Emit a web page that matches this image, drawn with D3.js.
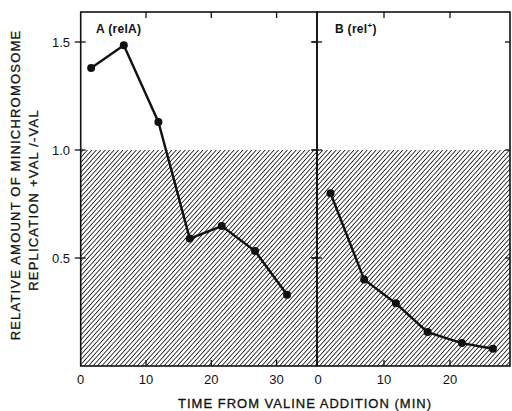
<!DOCTYPE html>
<html>
<head>
<meta charset="utf-8">
<script src="https://cdn.jsdelivr.net/npm/d3@7"></script>
<style>
  body { margin: 0; background: #fff; }
  svg text { font-family: "Liberation Sans", Arial, sans-serif; fill: #111; }
</style>
</head>
<body>
<div class="chart"></div>
<script>
// panel A (relA)
const timeA = [1.6, 6.6, 11.9, 16.7, 21.6, 26.7, 31.6]
const valueA = [1.38, 1.485, 1.13, 0.59, 0.648, 0.532, 0.33]
// panel B (rel+)
const timeB = [1.9, 7.0, 11.8, 16.6, 21.8, 26.5]
const valueB = [0.80, 0.40, 0.29, 0.157, 0.106, 0.08]

const yTicks = [0.5, 1.0, 1.5]
const xTicksA = [0, 10, 20, 30]
const xTicksB = [0, 10, 20]
const shadeBelow = 1.0

const width = 512, height = 411
const plotTop = 12, plotBottom = 366

let svg = d3.select(".chart")
  .append("svg")
  .attr("width", width)
  .attr("height", height)

// hatch pattern
svg.append("defs")
  .append("pattern")
  .attr("id", "hatch")
  .attr("patternUnits", "userSpaceOnUse")
  .attr("width", 3.3)
  .attr("height", 3.3)
  .attr("patternTransform", "rotate(42)")
  .append("line")
  .attr("x1", 0).attr("y1", -1)
  .attr("x2", 0).attr("y2", 4.3)
  .style("stroke", "#111")
  .style("stroke-width", 1.6)

let y = d3.scaleLinear()
  .domain([0, 1])
  .range([plotBottom, plotBottom - 216])

let panels = [
  { name: "A", times: timeA, values: valueA, ticks: xTicksA, x: d3.scaleLinear().domain([0, 10]).range([80.7, 146]), x0: 80.7, x1: 317 },
  { name: "B", times: timeB, values: valueB, ticks: xTicksB, x: d3.scaleLinear().domain([0, 10]).range([318, 384]), x0: 317, x1: 510 }
]

panels.forEach(p => {
  let g = svg.append("g")

  // shaded region below 1.0
  g.append("rect")
    .attr("x", p.x0)
    .attr("y", y(shadeBelow))
    .attr("width", p.x1 - p.x0)
    .attr("height", y(0) - y(shadeBelow))
    .style("fill", "url(#hatch)")

  // frame
  g.append("rect")
    .attr("x", p.x0)
    .attr("y", plotTop)
    .attr("width", p.x1 - p.x0)
    .attr("height", plotBottom - plotTop)
    .style("fill", "none")
    .style("stroke", "#111")
    .style("stroke-width", 1.6)

  // x ticks, inward on top and bottom
  p.ticks.filter(t => t > 0).forEach(t => {
    g.append("line")
      .attr("x1", p.x(t)).attr("x2", p.x(t))
      .attr("y1", plotBottom).attr("y2", plotBottom - 6)
      .style("stroke", "#111").style("stroke-width", 1.3)
    g.append("line")
      .attr("x1", p.x(t)).attr("x2", p.x(t))
      .attr("y1", plotTop).attr("y2", plotTop + 6)
      .style("stroke", "#111").style("stroke-width", 1.3)
  })

  // x tick labels
  g.selectAll(".xl")
    .data(p.ticks)
    .enter()
    .append("text")
    .attr("x", d => p.x(d))
    .attr("y", 384)
    .attr("text-anchor", "middle")
    .style("font-size", "13px")
    .text(d => d)

  // y ticks on both sides of the panel
  yTicks.forEach(t => {
    g.append("line")
      .attr("x1", p.x0 - 6).attr("x2", p.x0 + 5)
      .attr("y1", y(t)).attr("y2", y(t))
      .style("stroke", "#111").style("stroke-width", 1.3)
    g.append("line")
      .attr("x1", p.x1 - 5).attr("x2", p.x1)
      .attr("y1", y(t)).attr("y2", y(t))
      .style("stroke", "#111").style("stroke-width", 1.3)
  })

  let pts = p.times.map((t, i) => [p.x(t), y(p.values[i])])

  g.append("path")
    .attr("d", d3.line()(pts))
    .style("fill", "none")
    .style("stroke", "#111")
    .style("stroke-width", 2.4)

  g.selectAll("circle")
    .data(pts)
    .enter()
    .append("circle")
    .attr("cx", d => d[0])
    .attr("cy", d => d[1])
    .attr("r", 4)
    .style("fill", "#111")
})

// y tick labels (left panel only)
svg.selectAll(".yl")
  .data(yTicks)
  .enter()
  .append("text")
  .attr("x", 70)
  .attr("y", d => y(d) + 5)
  .attr("text-anchor", "end")
  .style("font-size", "13px")
  .text(d => d.toFixed(1))

// panel titles
svg.append("text")
  .attr("x", 96).attr("y", 33)
  .style("font-size", "12px")
  .style("font-weight", "bold")
  .style("letter-spacing", "0.3px")
  .text("A (relA)")

let tb = svg.append("text")
  .attr("x", 335).attr("y", 33)
  .style("font-size", "12px")
  .style("font-weight", "bold")
  .style("letter-spacing", "0.3px")
tb.append("tspan").text("B (rel")
tb.append("tspan").attr("dy", -5).style("font-size", "8px").text("+")
tb.append("tspan").attr("dy", 5).text(")")

// axis titles
svg.append("text")
  .attr("transform", "translate(20,185) rotate(-90)")
  .attr("text-anchor", "middle")
  .style("font-size", "13px")
  .style("letter-spacing", "1.2px")
  .style("stroke", "#111").style("stroke-width", 0.3)
  .text("RELATIVE AMOUNT OF MINICHROMOSOME")

svg.append("text")
  .attr("transform", "translate(38,200) rotate(-90)")
  .attr("text-anchor", "middle")
  .style("font-size", "13px")
  .style("letter-spacing", "1.2px")
  .style("stroke", "#111").style("stroke-width", 0.3)
  .text("REPLICATION +VAL /-VAL")

svg.append("text")
  .attr("x", 305).attr("y", 408)
  .attr("text-anchor", "middle")
  .style("font-size", "13px")
  .style("letter-spacing", "1px")
  .style("stroke", "#111").style("stroke-width", 0.3)
  .text("TIME FROM VALINE ADDITION (MIN)")
</script>
</body>
</html>
